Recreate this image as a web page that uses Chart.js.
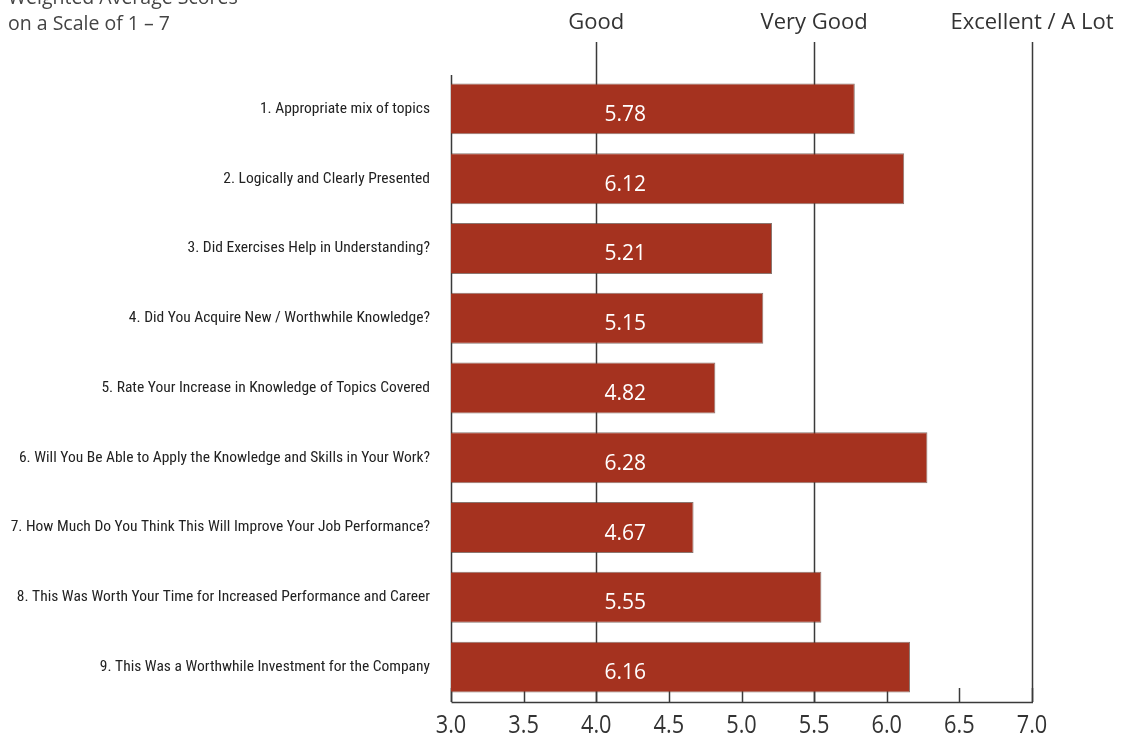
<!DOCTYPE html>
<html>
<head>
<meta charset="utf-8">
<script src="https://cdn.jsdelivr.net/npm/chart.js@4/dist/chart.umd.min.js"></script>
<style>
html,body{margin:0;padding:0;background:#fff;}
#wrap{width:1121px;height:737px;}
</style>
</head>
<body>
<div id="wrap"><canvas id="c" width="1121" height="737"></canvas></div>
<script>
const categories = [
  "1. Appropriate mix of topics",
  "2. Logically and Clearly Presented",
  "3. Did Exercises Help in Understanding?",
  "4. Did You Acquire New / Worthwhile Knowledge?",
  "5. Rate Your Increase in Knowledge of Topics Covered",
  "6. Will You Be Able to Apply the Knowledge and Skills in Your Work?",
  "7. How Much Do You Think This Will Improve Your Job Performance?",
  "8. This Was Worth Your Time for Increased Performance and Career",
  "9. This Was a Worthwhile Investment for the Company"
];
const scores = [5.78, 6.12, 5.21, 5.15, 4.82, 6.28, 4.67, 5.55, 6.16];
const xTicks = [3.0, 3.5, 4.0, 4.5, 5.0, 5.5, 6.0, 6.5, 7.0];
const ratingLines = [4.0, 5.5, 7.0];
const ratingLabels = ["Good", "Very Good", "Excellent / A Lot"];
const titleLines = ["Weighted Average Scores", "on a Scale of 1 \u2013 7"];
const valueLabelAt = 4.2;

const mainFont = "'Open Sans', 'Noto Sans', sans-serif";
const narrowFont = "'Liberation Sans Narrow', 'Roboto Condensed', 'DejaVu Sans Condensed', sans-serif";

function squeezedText(ctx, text, x, y, sx) {
  ctx.save();
  ctx.translate(x, y);
  ctx.scale(sx, 1);
  ctx.fillText(text, 0, 0);
  ctx.restore();
}

const decor = {
  id: 'decor',
  beforeDatasetsDraw(chart) {
    const ctx = chart.ctx, x = chart.scales.x, a = chart.chartArea;
    ctx.save();
    ctx.strokeStyle = '#3a3a3a';
    ctx.lineWidth = 1.5;
    ratingLines.forEach(v => {
      const px = Math.round(x.getPixelForValue(v)) + 0.5;
      ctx.beginPath(); ctx.moveTo(px, 42); ctx.lineTo(px, a.bottom); ctx.stroke();
    });
    const lx = Math.round(x.getPixelForValue(xTicks[0])) + 0.5;
    ctx.beginPath(); ctx.moveTo(lx, a.top + 1); ctx.lineTo(lx, a.bottom); ctx.stroke();
    ctx.beginPath(); ctx.moveTo(lx, a.bottom + 0.5); ctx.lineTo(x.getPixelForValue(xTicks[xTicks.length-1]) + 1, a.bottom + 0.5); ctx.stroke();
    xTicks.forEach(v => {
      const px = Math.round(x.getPixelForValue(v)) + 0.5;
      ctx.beginPath(); ctx.moveTo(px, a.bottom - 14); ctx.lineTo(px, a.bottom); ctx.stroke();
    });
    ctx.restore();
  },
  afterDatasetsDraw(chart) {
    const ctx = chart.ctx, x = chart.scales.x, a = chart.chartArea;
    const meta = chart.getDatasetMeta(0);
    ctx.save();
    ctx.fillStyle = '#ffffff';
    ctx.font = "21px " + mainFont;
    ctx.textAlign = 'center';
    ctx.textBaseline = 'middle';
    meta.data.forEach((bar, i) => {
      ctx.fillText(scores[i].toFixed(2), x.getPixelForValue(valueLabelAt), bar.y + 6);
    });
    ctx.fillStyle = '#333';
    ctx.font = "25px " + mainFont;
    ctx.textBaseline = 'alphabetic';
    xTicks.forEach(v => {
      squeezedText(ctx, v.toFixed(1), x.getPixelForValue(v), a.bottom + 31, 0.87);
    });
    ctx.font = "22px " + mainFont;
    ratingLines.forEach((v, i) => {
      ctx.fillText(ratingLabels[i], x.getPixelForValue(v), 29);
    });
    ctx.textAlign = 'left';
    ctx.fillStyle = '#444';
    ctx.font = "19.5px " + mainFont;
    ctx.fillText(titleLines[0], 8, 4);
    ctx.fillText(titleLines[1], 8, 30);
    ctx.restore();
  }
};

new Chart(document.getElementById('c'), {
  type: 'bar',
  data: {
    labels: categories,
    datasets: [{
      data: scores,
      backgroundColor: '#a5321f',
      borderColor: 'rgba(90,60,50,0.7)',
      borderWidth: 1,
      borderSkipped: false,
      barPercentage: 0.73,
      categoryPercentage: 1.0
    }]
  },
  options: {
    indexAxis: 'y',
    responsive: false,
    animation: false,
    layout: { padding: { top: 74, right: 89, bottom: 0, left: 0 } },
    plugins: { legend: { display: false }, tooltip: { enabled: false } },
    scales: {
      x: {
        min: 3, max: 7,
        afterBuildTicks(s) { s.ticks = xTicks.map(v => ({ value: v })); },
        afterFit(s) { s.height = 35; },
        grid: { display: false, drawTicks: false },
        border: { display: false },
        ticks: { display: false }
      },
      y: {
        afterFit(s) { s.width = 451; },
        grid: { display: false, drawTicks: false },
        border: { display: false },
        ticks: {
          color: '#222',
          font: { family: narrowFont, size: 15.5 },
          padding: 21
        }
      }
    }
  },
  plugins: [decor]
});
</script>
</body>
</html>
